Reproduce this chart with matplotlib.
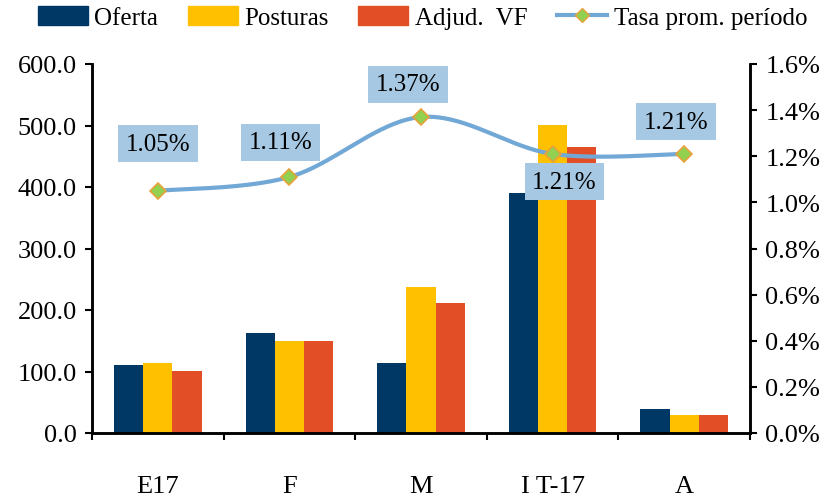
import numpy as np
import matplotlib
matplotlib.use("Agg")
import matplotlib.pyplot as plt
from matplotlib.lines import Line2D
from matplotlib.patches import Patch

plt.rcParams['font.family'] = ['Liberation Serif', 'DejaVu Serif']

categories = ["E17", "F", "M", "I T-17", "A"]
oferta = [110.6, 162.6, 114.0, 390.0, 39.0]
posturas = [114.0, 150.0, 237.0, 501.0, 29.0]
adjud = [101.0, 150.0, 211.0, 465.0, 29.0]
tasa = [1.05, 1.11, 1.37, 1.21, 1.21]
tasa_labels = ["1.05%", "1.11%", "1.37%", "1.21%", "1.21%"]

c_of = "#003865"
c_po = "#FFC000"
c_ad = "#E24E26"
c_line = "#72A8D6"
c_box = "#A7C8E2"
FS = 19

fig = plt.figure(figsize=(8.33, 5.02), dpi=100)
ax = fig.add_axes([92/833, 1-434/502, (750-92)/833, (434-65)/502])
ax2 = ax.twinx()

x = np.arange(len(categories))
w = 0.222
ax.bar(x - w, oferta, w, color=c_of, zorder=2)
ax.bar(x, posturas, w, color=c_po, zorder=2)
ax.bar(x + w, adjud, w, color=c_ad, zorder=2)

ax.set_xlim(-0.5, len(categories) - 0.5)
ax.set_ylim(0, 600)
ax.set_yticks(np.arange(0, 601, 100))
ax.set_yticklabels([f"{v:.1f}" for v in np.arange(0, 601, 100)])
ax.set_xticks(np.arange(-0.5, len(categories), 1.0))
ax.set_xticklabels([])
ax.set_xticks(x, minor=True)
ax.set_xticklabels(categories, minor=True)
ax.tick_params(axis='x', which='minor', length=0, pad=30, labelsize=FS)
ax.tick_params(axis='x', which='major', length=5, width=1.5, direction='out')
ax.tick_params(axis='y', length=5, width=1.5, direction='out', labelsize=FS, pad=6)

for a in (ax, ax2):
    a.spines['top'].set_visible(False)
    for s in ('left', 'right', 'bottom'):
        a.spines[s].set_linewidth(1.8)

ax2.set_ylim(0, 1.6)
ticks2 = np.arange(0, 1.61, 0.2)
ax2.set_yticks(ticks2)
ax2.set_yticklabels([f"{v:.1f}%" for v in ticks2])
ax2.tick_params(axis='y', length=5, width=1.5, direction='out', labelsize=FS, pad=6)

# smoothed line (Excel-like bezier smoothing)
px = x.astype(float)
py = np.array(tasa, dtype=float)
sx, sy = [], []
n = len(px)
t = np.linspace(0, 1, 40)
for i in range(n - 1):
    p0 = np.array([px[max(i-1, 0)], py[max(i-1, 0)]])
    p1 = np.array([px[i], py[i]])
    p2 = np.array([px[i+1], py[i+1]])
    p3 = np.array([px[min(i+2, n-1)], py[min(i+2, n-1)]])
    c1 = p1 + (p2 - p0) / 6
    c2 = p2 - (p3 - p1) / 6
    b = ((1-t)**3)[:, None]*p1 + (3*(1-t)**2*t)[:, None]*c1 + (3*(1-t)*t**2)[:, None]*c2 + (t**3)[:, None]*p2
    sx.extend(b[:, 0]); sy.extend(b[:, 1])
ax2.plot(sx, sy, color=c_line, lw=3, zorder=3, solid_capstyle='round')
ax2.plot(px, py, linestyle='none', marker='D', ms=8, mfc="#92D050", mec="#E9A23B", mew=1.2, zorder=4)

offsets = [(0, 47), (-9, 35), (-13, 33), (12, -28), (-8, 32)]
for xi, yi, lab, off in zip(px, py, tasa_labels, offsets):
    ax2.annotate(lab, (xi, yi), xytext=off, textcoords='offset pixels',
                 ha='center', va='center', fontsize=18, color='black', zorder=5,
                 bbox=dict(boxstyle='square,pad=0.3', fc=c_box, ec='none'))

handles = [Patch(color=c_of), Patch(color=c_po), Patch(color=c_ad),
           Line2D([0], [0], color=c_line, lw=3, marker='D', ms=7, mfc="#92D050", mec="#E9A23B")]
labels = ["Oferta", "Posturas", "Adjud.  VF", "Tasa prom. período"]
fig.legend(handles, labels, loc='center', bbox_to_anchor=(0.507, 0.963), ncol=4, frameon=False,
           fontsize=18, handlelength=2.0, handleheight=0.8, columnspacing=1.2, handletextpad=0.25,
           borderpad=0.1)

fig.savefig("out.png", dpi=100)
